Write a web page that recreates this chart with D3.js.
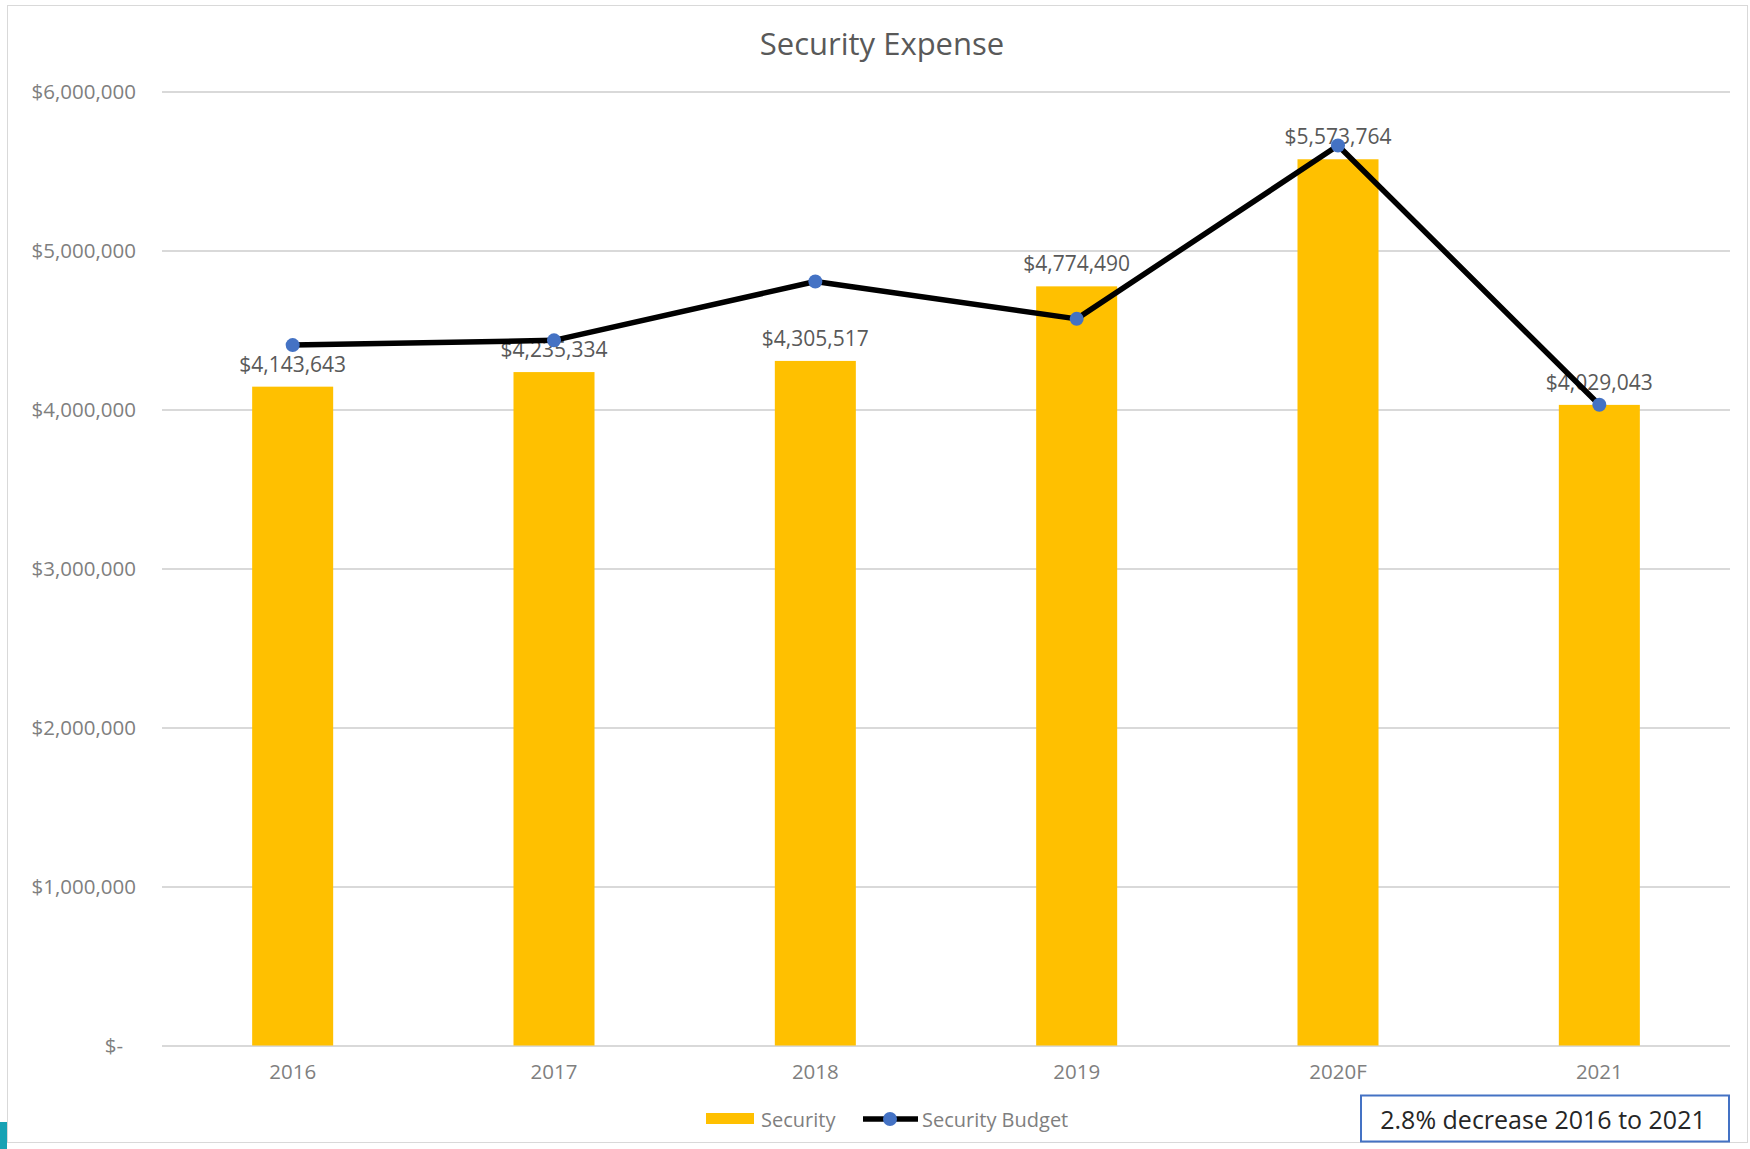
<!DOCTYPE html>
<html lang="en">

<head>
    <meta charset="UTF-8">
    <title>Security Expense</title>
    <script type='text/javascript' src='https://d3js.org/d3.v7.min.js'></script>
    <style>
        body { margin: 0; background: #fff; }
        text { font-family: "Open Sans", sans-serif; }
    </style>
</head>

<body>
    <script>
        // data
        const years = ["2016", "2017", "2018", "2019", "2020F", "2021"];
        const security = [4143643, 4235334, 4305517, 4774490, 5573764, 4029043];
        const securityBudget = [4405000, 4435000, 4805000, 4570000, 5660000, 4030000];
        const yTicks = [0, 1000000, 2000000, 3000000, 4000000, 5000000, 6000000];
        const seriesNames = ["Security", "Security Budget"];
        const note = "2.8% decrease 2016 to 2021";

        const W = 1750, H = 1149;
        // plot area
        const plotLeft = 162, plotRight = 1730, plotTop = 91.5, plotBottom = 1045.5;

        const svg = d3.select("body").append("svg")
            .attr("width", W)
            .attr("height", H);

        // outer frame like the excel chart area
        svg.append("rect")
            .attr("x", 7.5).attr("y", 5.5)
            .attr("width", 1740).attr("height", 1137)
            .attr("fill", "#fff")
            .attr("stroke", "#d9d9d9");
        // bit of slide showing at the corner
        svg.append("rect")
            .attr("x", 0).attr("y", 1122)
            .attr("width", 7).attr("height", 27)
            .attr("fill", "#17a2b4");

        // title
        svg.append("text")
            .attr("x", 882).attr("y", 55)
            .attr("text-anchor", "middle")
            .attr("font-size", 31)
            .attr("fill", "#595959")
            .text("Security Expense");

        // scales
        var x = d3.scaleBand()
            .domain(years)
            .range([plotLeft, plotRight])
            .paddingInner(0.69)
            .paddingOuter(0.345);

        var y = d3.scaleLinear()
            .domain([0, 6000000])
            .range([plotBottom, plotTop]);

        // gridlines + y labels
        var fmt = d3.format("$,.0f");
        var yAxis = svg.append("g")
            .attr("transform", "translate(" + plotLeft + ",0)")
            .call(d3.axisLeft(y)
                .tickValues(yTicks)
                .tickSize(-(plotRight - plotLeft))
                .tickPadding(26)
                .tickFormat(function (d) { return d === 0 ? "$-" : fmt(d); }));
        yAxis.select(".domain").remove();
        yAxis.selectAll(".tick line")
            .attr("stroke", "#d9d9d9")
            .attr("stroke-width", 2);
        yAxis.selectAll(".tick text")
            .attr("font-family", "Open Sans")
            .attr("font-size", 20.5)
            .attr("fill", "#7f7f7f")
            .attr("dx", function (d) { return d === 0 ? -13 : 0; });

        // x labels
        var xAxis = svg.append("g")
            .attr("transform", "translate(0," + plotBottom + ")")
            .call(d3.axisBottom(x).tickSize(0).tickPadding(19));
        xAxis.select(".domain").remove();
        xAxis.selectAll(".tick text")
            .attr("font-family", "Open Sans")
            .attr("font-size", 20.5)
            .attr("fill", "#7f7f7f");

        // bars
        var barData = years.map(function (d, i) { return { year: d, value: security[i] }; });
        svg.append("g").selectAll("rect")
            .data(barData)
            .enter().append("rect")
            .attr("x", function (d) { return x(d.year); })
            .attr("y", function (d) { return y(d.value); })
            .attr("width", x.bandwidth())
            .attr("height", function (d) { return plotBottom - y(d.value); })
            .attr("fill", "#ffc000");

        // value labels above bars
        svg.append("g").selectAll("text")
            .data(barData)
            .enter().append("text")
            .attr("x", function (d) { return x(d.year) + x.bandwidth() / 2; })
            .attr("y", function (d) { return y(d.value) - 15; })
            .attr("text-anchor", "middle")
            .attr("font-size", 21)
            .attr("fill", "#595959")
            .text(function (d) { return fmt(d.value); });

        // budget line
        var lineData = years.map(function (d, i) { return { year: d, value: securityBudget[i] }; });
        var line = d3.line()
            .x(function (d) { return x(d.year) + x.bandwidth() / 2; })
            .y(function (d) { return y(d.value); });
        svg.append("path")
            .datum(lineData)
            .attr("d", line)
            .attr("fill", "none")
            .attr("stroke", "#000")
            .attr("stroke-width", 5.5)
            .attr("stroke-linejoin", "round");
        svg.append("g").selectAll("circle")
            .data(lineData)
            .enter().append("circle")
            .attr("cx", function (d) { return x(d.year) + x.bandwidth() / 2; })
            .attr("cy", function (d) { return y(d.value); })
            .attr("r", 7)
            .attr("fill", "#4472c4");

        // legend
        var lg = svg.append("g");
        lg.append("rect")
            .attr("x", 706).attr("y", 1113)
            .attr("width", 48).attr("height", 11)
            .attr("fill", "#ffc000");
        lg.append("text")
            .attr("x", 761).attr("y", 1119)
            .attr("dominant-baseline", "central")
            .attr("font-size", 20)
            .attr("fill", "#7f7f7f")
            .text(seriesNames[0]);
        lg.append("line")
            .attr("x1", 863).attr("x2", 918)
            .attr("y1", 1119).attr("y2", 1119)
            .attr("stroke", "#000")
            .attr("stroke-width", 5.5);
        lg.append("circle")
            .attr("cx", 890).attr("cy", 1119)
            .attr("r", 7)
            .attr("fill", "#4472c4");
        lg.append("text")
            .attr("x", 922).attr("y", 1119)
            .attr("dominant-baseline", "central")
            .attr("font-size", 20)
            .attr("fill", "#7f7f7f")
            .text(seriesNames[1]);

        // note box
        svg.append("rect")
            .attr("x", 1361).attr("y", 1095.5)
            .attr("width", 368).attr("height", 46)
            .attr("fill", "#fff")
            .attr("stroke", "#4472c4")
            .attr("stroke-width", 2);
        svg.append("text")
            .attr("x", 1543).attr("y", 1119)
            .attr("text-anchor", "middle")
            .attr("dominant-baseline", "central")
            .attr("font-size", 25)
            .attr("fill", "#262626")
            .text(note);
    </script>
</body>

</html>
